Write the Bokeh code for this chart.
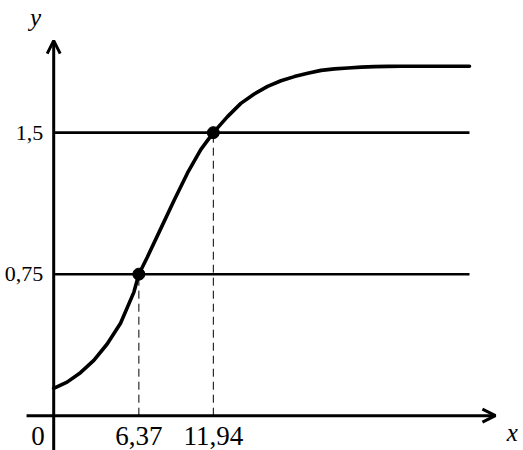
from bokeh.plotting import figure
from bokeh.models import Arrow, OpenHead
from bokeh.core.properties import value
from bokeh.embed import file_html
from bokeh.resources import INLINE

# curve values
curve_x = [0, 1, 2, 3, 4, 5, 6, 6.37, 7, 8, 9, 10, 11, 11.94, 13, 14, 15, 16, 17, 18,
           19, 20, 21, 22, 23, 24, 25, 26, 27, 28, 29, 30, 31.1]
curve_y = [0.145, 0.178, 0.228, 0.293, 0.38, 0.49, 0.655, 0.75, 0.84, 0.99, 1.14, 1.285,
           1.41, 1.5, 1.585, 1.655, 1.705, 1.745, 1.775, 1.797, 1.815, 1.83, 1.838, 1.843,
           1.847, 1.85, 1.851, 1.852, 1.852, 1.852, 1.852, 1.852, 1.852]

levels = [0.75, 1.5]
level_labels = ["0,75", "1,5"]
cross_x = [6.37, 11.94]
cross_labels = ["6,37", "11,94"]
x_end_val = 31.1

FONT = value("Liberation Serif")

p = figure(width=523, height=450, output_backend="svg", toolbar_location=None,
           x_range=(-3.979, 35.14), y_range=(-0.1844, 2.2003),
           x_axis_location=None, y_axis_location=None, min_border=0)
p.grid.visible = False
p.outline_line_color = None
p.background_fill_color = "white"
p.border_fill_color = "white"

# axes with arrows
p.add_layout(Arrow(end=OpenHead(size=13, line_width=3, line_color="black"),
                   x_start=-2.03, y_start=0, x_end=33.04, y_end=0,
                   line_width=3, line_color="black"))
p.add_layout(Arrow(end=OpenHead(size=13, line_width=3, line_color="black"),
                   x_start=0, y_start=-0.2, x_end=0, y_end=1.988,
                   line_width=3, line_color="black"))

# horizontal levels
for lv in levels:
    p.line([0.1, x_end_val], [lv, lv], line_width=2.6, line_color="black")

# dashed verticals
for cx, lv in zip(cross_x, levels):
    p.line([cx, cx], [0, lv], line_width=1, line_color="black", line_dash="8 5")

# curve
p.line(curve_x, curve_y, line_width=3.6, line_color="black", line_cap="round")

# intersection points
p.scatter(cross_x, levels, size=12, fill_color="black", line_color="black")

# tick labels
p.text(x=[-0.78, -0.78], y=levels, text=level_labels, text_font=FONT,
       text_font_size="22px", text_align="right", text_baseline="middle", text_color="black")
p.text(x=cross_x, y=[-0.108, -0.108], text=cross_labels, text_font=FONT,
       text_font_size="27px", text_align="center", text_baseline="middle", text_color="black")
p.text(x=[-1.17], y=[-0.108], text=["0"], text_font=FONT,
       text_font_size="27px", text_align="center", text_baseline="middle", text_color="black")

# axis names
p.text(x=[-1.36], y=[2.11], text=["y"], text_font=FONT, text_font_style="italic",
       text_font_size="25px", text_align="center", text_baseline="middle", text_color="black")
p.text(x=[34.3], y=[-0.09], text=["x"], text_font=FONT, text_font_style="italic",
       text_font_size="25px", text_align="center", text_baseline="middle", text_color="black")

open("out.html", "w").write(file_html(p, INLINE))
